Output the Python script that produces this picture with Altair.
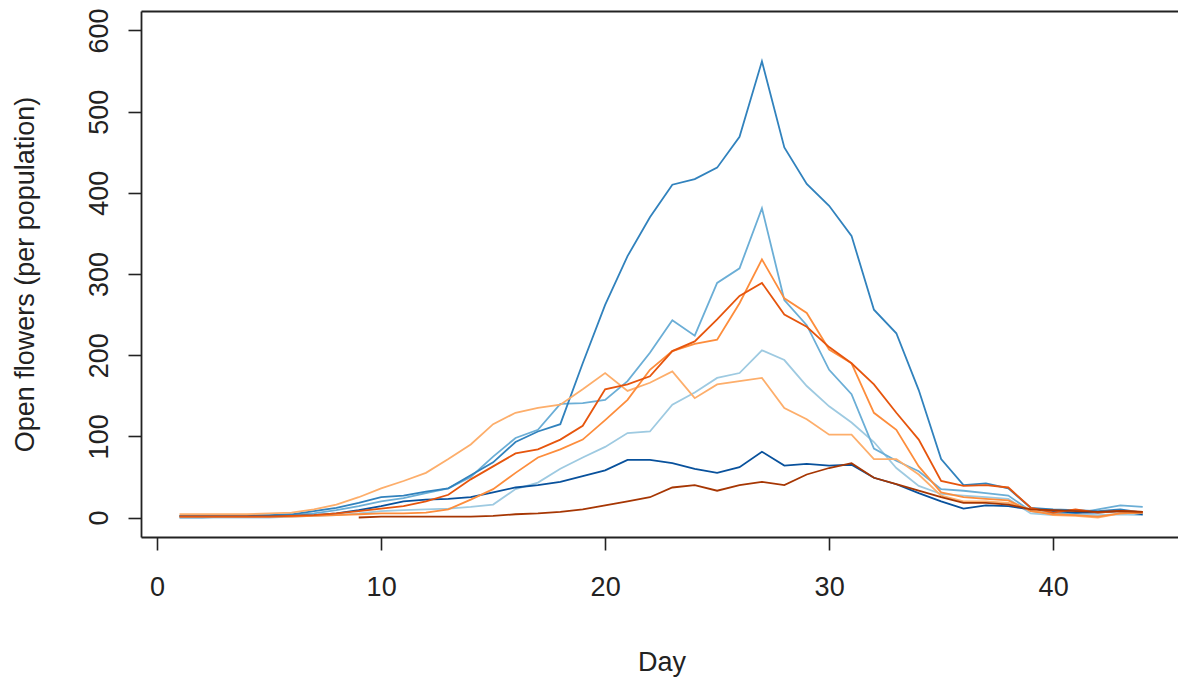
import altair as alt
import pandas as pd

# Daily counts of open flowers, one list per population (day 1..44)
days = list(range(1, 45))

blue_mid = [2, 2, 2, 3, 3, 4, 8, 12, 18, 25,
            27, 32, 36, 52, 68, 93, 106, 115, 190, 262,
            322, 370, 410, 417, 431, 469, 562, 456, 411, 384,
            347, 256, 227, 157, 72, 40, 42, 36, 12, 10,
            9, 8, 10, 6]
blue_light = [0, 0, 1, 1, 2, 3, 5, 9, 14, 20,
              24, 30, 36, 50, 75, 98, 108, 140, 141, 145,
              168, 203, 243, 224, 289, 307, 381, 268, 237, 182,
              152, 85, 70, 57, 35, 33, 30, 27, 8, 5,
              5, 10, 15, 13]
blue_pale = [0, 0, 0, 0, 0, 1, 2, 3, 5, 8,
             9, 10, 11, 13, 16, 35, 43, 60, 74, 87,
             104, 106, 139, 154, 172, 178, 206, 194, 162, 137,
             117, 93, 61, 39, 29, 27, 25, 23, 5, 3,
             4, 3, 4, 3]
blue_dark = [2, 2, 2, 2, 2, 2, 3, 5, 9, 14,
             20, 22, 23, 25, 31, 37, 40, 44, 51, 58,
             71, 71, 67, 60, 55, 62, 81, 64, 66, 64,
             65, 49, 41, 30, 20, 11, 15, 14, 10, 8,
             6, 6, 8, 4]
orange_mid = [1, 1, 1, 1, 1, 1, 2, 3, 4, 5,
              5, 6, 10, 22, 35, 55, 74, 84, 96, 120,
              145, 182, 205, 214, 219, 264, 318, 270, 252, 207,
              190, 129, 108, 63, 31, 25, 23, 21, 8, 4,
              3, 1, 5, 6]
orange_dark = [1, 1, 1, 1, 1, 2, 3, 5, 8, 11,
               14, 20, 28, 47, 63, 79, 84, 96, 113, 158,
               164, 174, 205, 217, 244, 273, 289, 250, 235, 210,
               190, 164, 129, 96, 45, 39, 40, 37, 12, 6,
               10, 6, 8, 7]
orange_light = [4, 4, 4, 4, 5, 6, 10, 16, 25, 36,
                45, 55, 72, 90, 115, 129, 135, 139, 158, 178,
                156, 166, 180, 147, 164, 168, 172, 135, 121, 102,
                102, 72, 72, 53, 27, 20, 20, 18, 10, 3,
                2, 0, 5, 6]
brown = [None, None, None, None, None, None, None, None, 0, 1,
         1, 1, 1, 1, 2, 4, 5, 7, 10, 15,
         20, 25, 37, 40, 33, 40, 44, 40, 53, 61,
         67, 49, 41, 33, 25, 18, 18, 16, 10, 9,
         8, 7, 8, 7]

series = {
    "pale blue": blue_pale,
    "light blue": blue_light,
    "mid blue": blue_mid,
    "dark blue": blue_dark,
    "light orange": orange_light,
    "mid orange": orange_mid,
    "dark orange": orange_dark,
    "brown": brown,
}
colors = ["#9ecae1", "#6baed6", "#3182bd", "#08519c",
          "#fdae6b", "#fd8d3c", "#e6550d", "#a63603"]

x_ticks = [0, 10, 20, 30, 40]
y_ticks = [0, 100, 200, 300, 400, 500, 600]

rows = []
for name, values in series.items():
    for d, v in zip(days, values):
        rows.append({"population": name, "day": d, "flowers": v})
df = pd.DataFrame(rows)

FONT = "Liberation Sans"
INK = "#222222"
W, H = 1037, 526

x_scale = alt.Scale(domain=[-0.72, -0.72 + W / 22.4], nice=False, zero=False)
y_scale = alt.Scale(domain=[-24, 624], nice=False, zero=False)

lines = alt.Chart(df).mark_line(strokeWidth=1.8, clip=True).encode(
    x=alt.X("day:Q", scale=x_scale,
            axis=alt.Axis(values=x_ticks, title="Day", orient="bottom",
                          tickSize=13, labelPadding=24,
                          titleX=W / 2 + 2, titleY=133,
                          titleBaseline="alphabetic", titleAlign="center")),
    y=alt.Y("flowers:Q", scale=y_scale,
            axis=alt.Axis(values=y_ticks, title="Open flowers (per population)",
                          tickSize=13, labelPadding=21, labelAngle=270,
                          labelAlign="center", labelBaseline="alphabetic",
                          titleAngle=270, titleX=-108, titleY=H / 2,
                          titleBaseline="alphabetic", titleAlign="center")),
    color=alt.Color("population:N",
                    scale=alt.Scale(domain=list(series.keys()), range=colors),
                    legend=None),
)

# invisible copy that carries the top edge of the frame
frame_top = alt.Chart(df).mark_line(strokeOpacity=0).encode(
    x=alt.X("day:Q", scale=x_scale,
            axis=alt.Axis(orient="top", labels=False, ticks=False, title=None)),
    y=alt.Y("flowers:Q", scale=y_scale),
)

chart = (
    alt.layer(lines, frame_top)
    .resolve_axis(x="independent")
    .properties(
        width=W, height=H,
        autosize=alt.AutoSizeParams(type="none"),
        padding={"left": 141, "top": 11, "right": 0, "bottom": 142},
        background="white",
    )
    .configure_view(stroke=None)
    .configure_axis(
        grid=False,
        domainColor=INK, domainWidth=1.8,
        tickColor=INK, tickWidth=1.6,
        labelFont=FONT, labelFontSize=27, labelColor=INK,
        titleFont=FONT, titleFontSize=27, titleColor=INK,
        titleFontWeight="normal",
    )
)

chart.save("out.html", embed_options={"renderer": "svg", "actions": False})
